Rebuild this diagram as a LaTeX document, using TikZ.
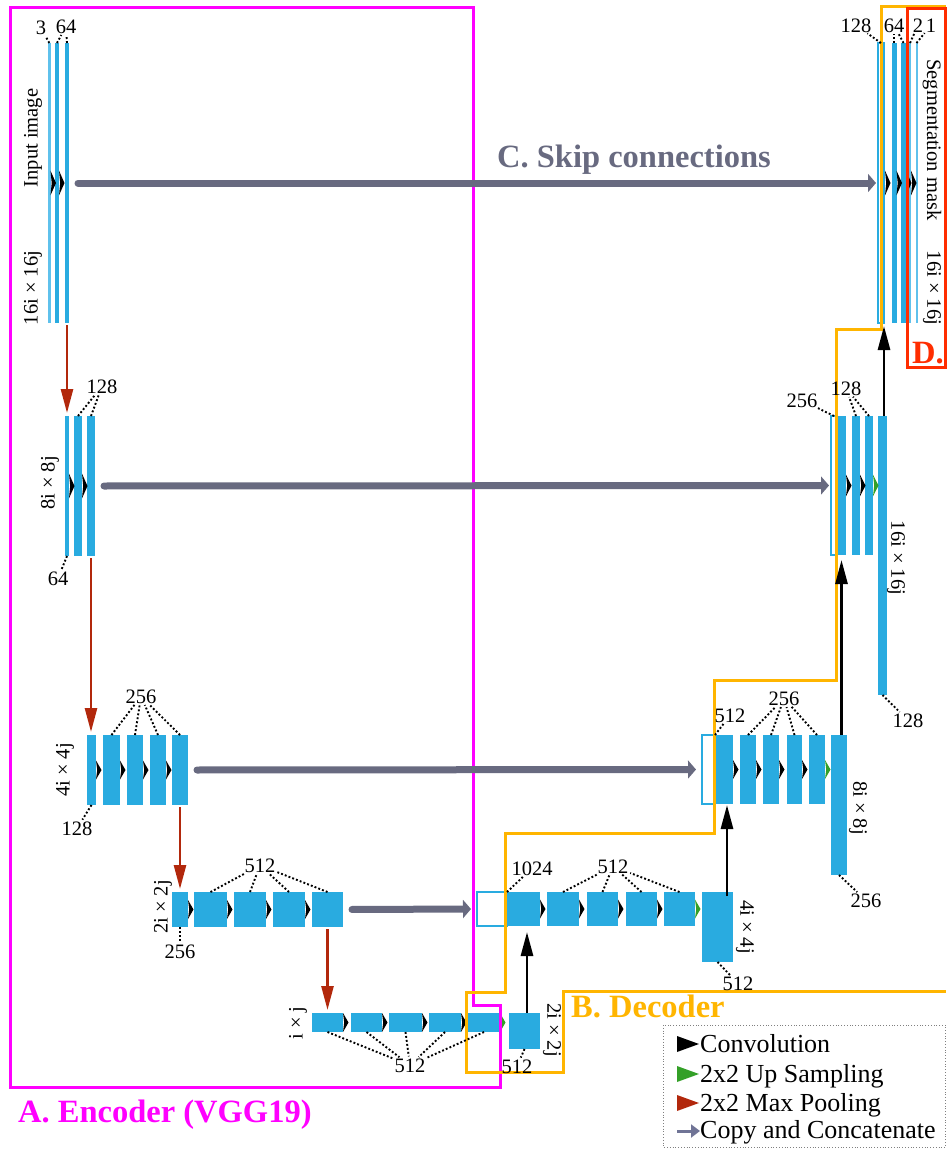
\documentclass[tikz,border=0pt]{standalone}
\usepackage{fontspec}
\setmainfont{Liberation Serif}
\usetikzlibrary{arrows.meta}
\definecolor{ublue}{RGB}{41,171,224}
\definecolor{lblue}{RGB}{95,193,236}
\definecolor{pred}{RGB}{178,40,12}
\definecolor{ugreen}{RGB}{52,160,40}
\definecolor{sgray}{RGB}{104,106,128}
\definecolor{lgray}{RGB}{112,116,150}
\definecolor{mag}{RGB}{255,0,255}
\definecolor{orng}{RGB}{255,181,0}
\definecolor{dred}{RGB}{255,45,0}
\newcommand{\mybar}[6][bar]{\pgfmathsetmacro\mybw{#4-#3}\pgfmathsetmacro\mybh{#6-#5}\node[#1, minimum width=\mybw pt, minimum height=\mybh pt] (#2) at (#3,#5) {};}
\begin{document}
\begin{tikzpicture}[x=1pt,y=-1pt,
 bar/.style={fill=ublue, inner sep=0pt, outer sep=0pt, anchor=north west, draw=none},
 tbar/.style={bar, fill=lblue},
 obar/.style={bar, fill=white, draw=ublue, line width=1.3pt},
 lab/.style={font=\fontsize{20.5}{24}\selectfont, inner sep=0pt, outer sep=0pt},
 big/.style={font=\bfseries\fontsize{32.5}{38}\selectfont, inner sep=0pt},
 leg/.style={font=\fontsize{26}{30}\selectfont, anchor=base west, inner sep=0pt},
 dotl/.style={line width=1.9pt, dash pattern=on 1.9pt off 2.1pt, shorten >=2pt},
 pool/.style={draw=pred, line width=2.6pt, shorten <=2pt, shorten >=3pt, -{Triangle[length=24pt,width=12pt]}},
 upc/.style={draw=black, line width=2.8pt, -{Triangle[length=24pt,width=12pt]}},
 skip/.style={draw=sgray, line width=7pt, line cap=round, shorten <=9pt, -{Triangle[length=8pt,width=18pt]}},
 convt/.pic={\fill[black] (0,-9.5) -- (5.5,0) -- (0,9.5) -- (1.2,0) -- cycle;},
 upt/.pic={\fill[ugreen] (0,-9.5) -- (5.5,0) -- (0,9.5) -- (1.2,0) -- cycle;},
]
\useasboundingbox (0,0) rectangle (946,1149);

% ---------- encoder bars ----------
\mybar[tbar]{e1a}{48}{50.5}{43}{323}
\mybar{e1b}{55}{59}{43}{323}
\mybar{e1c}{65}{69}{43}{323}

\mybar{e2a}{65}{69}{416}{556}
\mybar{e2b}{74}{82}{416}{556}
\mybar{e2c}{87}{95}{416}{556}

\mybar{e3a}{87}{96}{735}{805}
\mybar{e3b}{103}{120}{735}{805}
\mybar{e3c}{127}{143}{735}{805}
\mybar{e3d}{150}{166}{735}{805}
\mybar{e3e}{172}{188}{735}{805}

\mybar{e4a}{172}{188}{892}{927}
\mybar{e4b}{194}{227}{892}{927}
\mybar{e4c}{234}{266}{892}{927}
\mybar{e4d}{273}{305}{892}{927}
\mybar{e4e}{312}{343}{892}{927}

\mybar{e5a}{312}{343}{1013}{1032}
\mybar{e5b}{351}{382}{1013}{1032}
\mybar{e5c}{389}{422}{1013}{1032}
\mybar{e5d}{429}{461}{1013}{1032}
\mybar{e5e}{468}{500}{1013}{1032}

% ---------- decoder bars ----------
\mybar{d5}{509}{540}{1013}{1049}

\mybar[obar]{d4o}{477}{507}{892}{926}
\mybar{d4a}{507}{540}{892}{926}
\mybar{d4b}{547}{579}{892}{926}
\mybar{d4c}{587}{618}{892}{926}
\mybar{d4d}{626}{657}{892}{926}
\mybar{d4e}{664}{695}{892}{926}
\mybar{d4f}{702}{733}{892}{962}

\mybar[obar]{d3o}{702}{715}{735}{804}
\mybar{d3a}{715}{733}{735}{804}
\mybar{d3b}{740}{756}{735}{804}
\mybar{d3c}{763}{779}{735}{804}
\mybar{d3d}{787}{802}{735}{804}
\mybar{d3e}{809}{825}{735}{804}
\mybar{d3f}{831}{847}{735}{875}

\mybar[obar]{d2o}{831}{837}{416}{555}
\mybar{d2a}{837}{846}{416}{555}
\mybar{d2b}{852}{860}{416}{555}
\mybar{d2c}{865}{873}{416}{555}
\mybar{d2f}{878}{887}{416}{695}

\mybar[obar]{d1o}{878}{884}{43}{323}
\mybar{d1a}{891.5}{896.5}{43}{323}
\mybar{d1b}{901}{906}{43}{323}
\mybar[tbar]{d1c}{909}{911}{43}{323}
\mybar[tbar]{d1d}{915.5}{917.5}{43}{323}

% ---------- convolution / up-sampling marks ----------
\pic[yscale=1.3] at (e1a.east) {convt};
\pic[yscale=1.3] at (e1b.east) {convt};
\pic[yscale=1.3] at (e2a.east) {convt};
\pic[yscale=1.3] at (e2b.east) {convt};
\foreach \b in {e3a,e3b,e3c,e3d,e4a,e4b,e4c,e4d,e5a,e5b,e5c,e5d,d4a,d4b,d4c,d4d,d3a,d3b,d3c,d3d}
  \pic at (\b.east) {convt};
\pic at (e5e.east) {upt};
\pic at (d4e.east) {upt};
\pic at (d3e.east) {upt};
\pic[yscale=1.15] at (d2a.east) {convt};
\pic[yscale=1.15] at (d2b.east) {convt};
\pic[yscale=1.15] at (d2c.east) {upt};
\pic[yscale=1.3] at ([xshift=1pt]d1o.east) {convt};
\pic[yscale=1.3] at (d1a.east) {convt};
\pic[yscale=1.3] at (d1b.east) {convt};
\pic[yscale=1.3] at (d1c.east) {convt};

% ---------- frames ----------
\draw[mag, line width=3pt] (10,7) -- (473,7) -- (473,1005) -- (500,1005) -- (500,1087) -- (10,1087) -- cycle;
\draw[orng, line width=3pt] (946,6) -- (881,6) -- (881,329) -- (836,329) -- (836,680) -- (714,680) -- (714,833) -- (505,833) -- (505,992) -- (466,992) -- (466,1072) -- (563,1072) -- (563,991) -- (946,991);
\draw[dred, line width=3pt] (907,8) rectangle (945,367);

% ---------- titles ----------
\node[big, text=sgray, anchor=base] (tC) at (634,167) {C. Skip connections};
\node[big, text=mag, anchor=base west] (tA) at (18,1122) {A. Encoder (VGG19)};
\node[big, text=orng, anchor=base west] (tB) at (571,1017) {B. Decoder};
\node[big, text=dred, anchor=base west] (tD) at (912,363) {D.};

% ---------- rotated size labels ----------
\node[lab, rotate=90] (rIn) at (33,138) {Input image};
\node[lab, rotate=90] (rE1) at (33,288) {16i × 16j};
\node[lab, rotate=90] (rE2) at (50,483) {8i × 8j};
\node[lab, rotate=90] (rE3) at (65,770) {4i × 4j};
\node[lab, rotate=90] (rE4) at (163,907) {2i × 2j};
\node[lab, rotate=90] (rE5) at (298,1023) {i × j};
\node[lab, rotate=-90] (rD5) at (552,1030) {2i × 2j};
\node[lab, rotate=-90] (rD4) at (745,927) {4i × 4j};
\node[lab, rotate=-90] (rD3) at (858,808) {8i × 8j};
\node[lab, rotate=-90] (rD2) at (896,558) {16i × 16j};
\node[lab, rotate=-90] (rSeg) at (932,140) {Segmentation mask};
\node[lab, rotate=-90] (rD1) at (932,288) {16i × 16j};

% ---------- channel labels ----------
\node[lab, anchor=base] (lE1a) at (41,34) {3};
\node[lab, anchor=base] (lE1b) at (66,33) {64};
\node[lab, anchor=base] (lE2t) at (102,393) {128};
\node[lab, anchor=base] (lE2b) at (58,585) {64};
\node[lab, anchor=base] (lE3t) at (141,703) {256};
\node[lab, anchor=base] (lE3b) at (77,835) {128};
\node[lab, anchor=base] (lE4t) at (260,872) {512};
\node[lab, anchor=base] (lE4b) at (180,958) {256};
\node[lab, anchor=base] (lE5) at (410,1072) {512};
\node[lab, anchor=base] (lD5) at (517,1073) {512};
\node[lab, anchor=base] (lD4a) at (532,875) {1024};
\node[lab, anchor=base] (lD4t) at (613,873) {512};
\node[lab, anchor=base] (lD4b) at (738,990) {512};
\node[lab, anchor=base] (lD3a) at (730,722) {512};
\node[lab, anchor=base] (lD3t) at (784,705) {256};
\node[lab, anchor=base] (lD3b) at (866,907) {256};
\node[lab, anchor=base] (lD2a) at (802,407) {256};
\node[lab, anchor=base] (lD2t) at (846,395) {128};
\node[lab, anchor=base] (lD2b) at (908,727) {128};
\node[lab, anchor=base] (lD1a) at (856,32) {128};
\node[lab, anchor=base] (lD1b) at (894,32) {64};
\node[lab, anchor=base] (lD1c) at (918,32) {2};
\node[lab, anchor=base] (lD1d) at (931,32) {1};

% ---------- dotted leaders ----------
\draw[dotl] (e1a.north) -- (lE1a);
\draw[dotl] (e1b.north) -- (lE1b);
\draw[dotl] (e1c.north) -- (lE1b);
\draw[dotl] (e2b.north) -- (lE2t);
\draw[dotl] (e2c.north) -- (lE2t);
\draw[dotl] (e2a.south) -- (lE2b);
\foreach \b in {e3b,e3c,e3d,e3e} \draw[dotl] (\b.north) -- (lE3t);
\draw[dotl] (e3a.south) -- (lE3b);
\foreach \b in {e4b,e4c,e4d,e4e} \draw[dotl] (\b.north) -- (lE4t);
\draw[dotl] (e4a.south) -- (lE4b);
\foreach \b in {e5a,e5b,e5c,e5d,e5e} \draw[dotl] (\b.south) -- (lE5);
\draw[dotl] (d5.south) -- (lD5);
\draw[dotl] (d4a.north west) -- (lD4a);
\foreach \b in {d4b,d4c,d4d,d4e} \draw[dotl] (\b.north) -- (lD4t);
\draw[dotl] (d4f.south) -- (lD4b);
\draw[dotl] (d3a.north west) -- (lD3a);
\foreach \b in {d3b,d3c,d3d,d3e} \draw[dotl] (\b.north) -- (lD3t);
\draw[dotl] (d3f.south) -- (lD3b);
\draw[dotl] (d2o.north) -- (lD2a);
\draw[dotl] (d2b.north) -- (lD2t);
\draw[dotl] (d2c.north) -- (lD2t);
\draw[dotl] (d2f.south) -- (lD2b);
\draw[dotl] (d1o.north) -- (lD1a);
\draw[dotl] (d1a.north) -- (lD1b);
\draw[dotl] (d1b.north) -- (lD1b);
\draw[dotl] (d1c.north) -- (lD1c);
\draw[dotl] (d1d.north) -- (lD1d);

% ---------- max pooling ----------
\draw[pool] (e1c.south) -- (e1c.south |- e2a.north);
\draw[pool] (e2c.south) -- (e2c.south |- e3a.north);
\draw[pool] (e3e.south) -- (e3e.south |- e4a.north);
\draw[pool] (e4e.south) -- (e4e.south |- e5a.north);

% ---------- up connections ----------
\draw[upc, shorten >=6pt] ([xshift=2.5pt]d5.north) -- ([xshift=2.5pt]d5.north |- d4a.south);
\draw[upc, shorten <=-4pt, shorten >=1pt] ([xshift=9.5pt]d4f.north) -- ([xshift=9.5pt]d4f.north |- d3a.south);
\draw[upc, shorten >=5pt] (d3f.north -| d2a.south) -- (d2a.south);
\draw[upc, shorten >=3pt] ([xshift=1.5pt]d2f.north) -- ([xshift=1.5pt]d2f.north |- d1o.south);

% ---------- skip connections ----------
\draw[skip, shorten >=2pt] (e1c.east) -- (d1o.west);
\draw[skip, shorten >=2pt] (e2c.east) -- (d2o.west);
\draw[skip, shorten >=6pt] (e3e.east) -- (d3o.west);
\draw[skip, shorten >=6pt] (e4e.east) -- (d4o.west);

% ---------- legend ----------
\draw[gray, line width=0.8pt, dotted] (663,1025) rectangle (945.5,1147);
\fill[black] (677,1036) -- (699,1044) -- (677,1052) -- cycle;
\fill[ugreen] (677,1066) -- (699,1074) -- (677,1082) -- cycle;
\fill[pred] (677,1095) -- (699,1103) -- (677,1111) -- cycle;
\draw[lgray, line width=3pt, -{Triangle[length=9pt,width=13pt]}] (677,1131) -- (700,1131);
\node[leg] (lg1) at (700,1052) {Convolution};
\node[leg] (lg2) at (700,1082) {2x2 Up Sampling};
\node[leg] (lg3) at (700,1111) {2x2 Max Pooling};
\node[leg] (lg4) at (700,1138) {Copy and Concatenate};
\end{tikzpicture}
\end{document}
